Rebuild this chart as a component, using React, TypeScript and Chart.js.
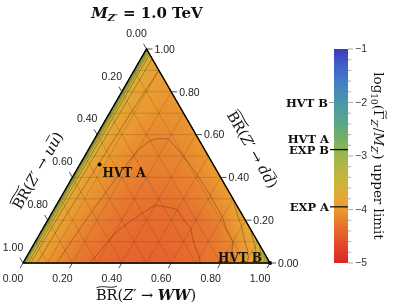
import { useEffect, useRef } from "react";
import { Chart, registerables } from "chart.js";

Chart.register(...registerables);

// ---- data (ternary: a = BR(WW), b = BR(uu), c = BR(dd)) ----
const titleMass = "1.0 TeV";
const wwFractions = [0, 0.01, 0.03, 0.06, 0.1, 0.2, 0.3, 0.4, 0.5, 0.6, 0.7, 0.8, 0.9, 0.95, 0.98, 1];
// share of dd among the quark decays: c / (b + c)
const ddShares = [0, 0.25, 0.5, 0.75, 1];
// log10(Gamma/M) upper limit, rows follow wwFractions, columns follow ddShares
const limitGrid = [
  [-2.88, -2.86, -2.83, -2.8, -2.77],
  [-3.32, -3.3, -3.27, -3.24, -3.21],
  [-3.72, -3.69, -3.66, -3.64, -3.62],
  [-3.95, -3.92, -3.89, -3.86, -3.83],
  [-4.06, -4.03, -4.0, -3.97, -3.93],
  [-4.25, -4.21, -4.16, -4.11, -4.02],
  [-4.36, -4.32, -4.27, -4.17, -4.04],
  [-4.42, -4.37, -4.32, -4.18, -4.03],
  [-4.43, -4.38, -4.33, -4.18, -4.01],
  [-4.41, -4.36, -4.31, -4.16, -3.98],
  [-4.35, -4.3, -4.25, -4.11, -3.93],
  [-4.23, -4.19, -4.13, -4.0, -3.83],
  [-3.98, -3.93, -3.88, -3.76, -3.6],
  [-3.7, -3.66, -3.61, -3.5, -3.35],
  [-3.27, -3.22, -3.17, -3.08, -2.95],
  [-2.7, -2.7, -2.7, -2.7, -2.7],
];
const contourLevels = [-4.33, -4.13, -3.93, -3.73, -3.53, -3.33, -3.13, -2.93];
const gridFractions = [0.1, 0.2, 0.3, 0.4, 0.5, 0.6, 0.7, 0.8, 0.9];
const axisTicks = [0, 0.2, 0.4, 0.6, 0.8, 1.0];
const axisTickLabels = ["0.00", "0.20", "0.40", "0.60", "0.80", "1.00"];
const benchNames = ["HVT A", "HVT B"];
const benchWW = [0.08, 1.0];
const benchUU = [0.46, 0.0];
const benchDD = [0.46, 0.0];
const cbRange = [-5, -1];
const cbTicks = [-1, -2, -3, -4, -5];
const cbTickLabels = ["\u22121", "\u22122", "\u22123", "\u22124", "\u22125"];
const cbMinorTicks = [-1.2, -1.4, -1.6, -1.8, -2.2, -2.4, -2.6, -2.8, -3.2, -3.4, -3.6, -3.8, -4.2, -4.4, -4.6, -4.8];
const cbMarkNames = ["HVT B", "HVT A", "EXP B", "EXP A"];
const cbMarkValues = [-2.0, -2.72, -2.88, -3.95];

// ---- styles ----
const SERIF = '"DejaVu Serif", "Liberation Serif", serif';
const SANS = '"Liberation Sans", Arial, sans-serif';
const CMAP: number[][] = [
  [-5.0, 220, 38, 38],
  [-4.7, 226, 69, 42],
  [-4.4, 230, 102, 46],
  [-4.2, 232, 128, 47],
  [-4.0, 234, 154, 49],
  [-3.8, 228, 166, 52],
  [-3.6, 214, 176, 56],
  [-3.3, 188, 182, 62],
  [-3.0, 156, 184, 74],
  [-2.7, 120, 176, 98],
  [-2.4, 90, 168, 134],
  [-2.0, 74, 152, 170],
  [-1.6, 68, 124, 196],
  [-1.3, 64, 96, 200],
  [-1.0, 58, 58, 192],
];

function cmap(v: number): number[] {
  if (v <= CMAP[0][0]) return CMAP[0].slice(1);
  for (let i = 0; i < CMAP.length - 1; i++) {
    const s0 = CMAP[i], s1 = CMAP[i + 1];
    if (v <= s1[0]) {
      const u = (v - s0[0]) / (s1[0] - s0[0]);
      return [s0[1] + u * (s1[1] - s0[1]), s0[2] + u * (s1[2] - s0[2]), s0[3] + u * (s1[3] - s0[3])];
    }
  }
  return CMAP[CMAP.length - 1].slice(1);
}

function findIdx(arr: number[], v: number) {
  let i = 0;
  while (i < arr.length - 2 && v > arr[i + 1]) i++;
  return i;
}

function fieldValue(a: number, c: number) {
  const aa = Math.min(Math.max(a, 0), 1);
  const n = wwFractions.length;
  if (aa >= 1) return limitGrid[n - 1][0];
  let t = c / (1 - aa);
  t = Math.min(Math.max(t, 0), 1);
  const i = findIdx(wwFractions, aa);
  const j = findIdx(ddShares, t);
  const u = (aa - wwFractions[i]) / (wwFractions[i + 1] - wwFractions[i]);
  const w = (t - ddShares[j]) / (ddShares[j + 1] - ddShares[j]);
  const v00 = limitGrid[i][j], v01 = limitGrid[i][j + 1];
  const v10 = limitGrid[i + 1][j], v11 = limitGrid[i + 1][j + 1];
  return (1 - u) * ((1 - w) * v00 + w * v01) + u * ((1 - w) * v10 + w * v11);
}

type Part = { t: string; f: string; dy?: number; tilde?: boolean; bar?: boolean };

function richText(ctx: CanvasRenderingContext2D, parts: Part[], x: number, y: number, angle: number, align = "center", color = "#111") {
  ctx.save();
  ctx.translate(x, y);
  ctx.rotate(angle);
  const widths = parts.map((p) => {
    ctx.font = p.f;
    return ctx.measureText(p.t).width;
  });
  const total = widths.reduce((s, w) => s + w, 0);
  let cx = align === "center" ? -total / 2 : align === "right" ? -total : 0;
  ctx.textAlign = "left";
  ctx.textBaseline = "alphabetic";
  ctx.fillStyle = color;
  ctx.strokeStyle = color;
  parts.forEach((p, i) => {
    ctx.font = p.f;
    const dy = p.dy || 0;
    ctx.fillText(p.t, cx, dy);
    const m = p.f.match(/(\d+(\.\d+)?)px/);
    const size = m ? parseFloat(m[1]) : 12;
    const w = widths[i];
    if (p.tilde) {
      const yt = dy - size * 0.9;
      ctx.beginPath();
      ctx.lineWidth = 0.9;
      ctx.moveTo(cx + 0.5, yt + 0.8);
      ctx.bezierCurveTo(cx + w * 0.35, yt - 2.2, cx + w * 0.65, yt + 2.2, cx + w - 0.5, yt - 0.8);
      ctx.stroke();
    }
    if (p.bar) {
      const yb = dy - size * 0.85;
      ctx.beginPath();
      ctx.lineWidth = 0.8;
      ctx.moveTo(cx + 1, yb);
      ctx.lineTo(cx + w - 0.5, yb);
      ctx.stroke();
    }
    cx += w;
  });
  ctx.restore();
}

const ternaryPlugin = {
  id: "ternaryField",
  beforeDatasetsDraw(chart: any) {
    const ctx: CanvasRenderingContext2D = chart.ctx;
    const xs = chart.scales.x, ys = chart.scales.y;
    const tern = (a: number, c: number) => [xs.getPixelForValue(a + c / 2), ys.getPixelForValue(c)];
    const x0 = Math.floor(xs.getPixelForValue(0)) - 1;
    const x1 = Math.ceil(xs.getPixelForValue(1)) + 1;
    const y0 = Math.floor(ys.getPixelForValue(1)) - 1;
    const y1 = Math.ceil(ys.getPixelForValue(0)) + 1;
    const W = x1 - x0 + 1, H = y1 - y0 + 1;
    const off = document.createElement("canvas");
    off.width = W;
    off.height = H;
    const octx = off.getContext("2d")!;
    const img = octx.createImageData(W, H);
    const vals = new Float32Array(W * H).fill(NaN);
    const tol = 0.003;
    for (let py = 0; py < H; py++) {
      const Y = ys.getValueForPixel(y0 + py + 0.5);
      for (let px = 0; px < W; px++) {
        const X = xs.getValueForPixel(x0 + px + 0.5);
        const c = Y, a = X - c / 2, b = 1 - a - c;
        if (a < -tol || b < -tol || c < -tol) continue;
        const v = fieldValue(a, Math.max(c, 0));
        vals[py * W + px] = v;
        const col = cmap(v);
        const k = (py * W + px) * 4;
        img.data[k] = col[0];
        img.data[k + 1] = col[1];
        img.data[k + 2] = col[2];
        img.data[k + 3] = 255;
      }
    }
    octx.putImageData(img, 0, 0);
    ctx.drawImage(off, x0, y0);

    // ternary grid
    ctx.save();
    ctx.lineWidth = 0.6;
    ctx.strokeStyle = "rgba(80,40,15,0.33)";
    ctx.beginPath();
    gridFractions.forEach((g) => {
      let p = tern(g, 0), q = tern(g, 1 - g);
      ctx.moveTo(p[0], p[1]); ctx.lineTo(q[0], q[1]);
      p = tern(0, g); q = tern(1 - g, g);
      ctx.moveTo(p[0], p[1]); ctx.lineTo(q[0], q[1]);
      p = tern(1 - g, 0); q = tern(0, 1 - g);
      ctx.moveTo(p[0], p[1]); ctx.lineTo(q[0], q[1]);
    });
    ctx.stroke();

    // contour lines
    ctx.lineWidth = 0.7;
    ctx.strokeStyle = "rgba(70,35,15,0.55)";
    ctx.beginPath();
    for (const L of contourLevels) {
      for (let py = 0; py < H - 1; py++) {
        for (let px = 0; px < W - 1; px++) {
          const v00 = vals[py * W + px], v10 = vals[py * W + px + 1];
          const v01 = vals[(py + 1) * W + px], v11 = vals[(py + 1) * W + px + 1];
          if (isNaN(v00) || isNaN(v10) || isNaN(v01) || isNaN(v11)) continue;
          const pts: number[][] = [];
          if (v00 > L !== v10 > L) pts.push([px + (L - v00) / (v10 - v00), py]);
          if (v10 > L !== v11 > L) pts.push([px + 1, py + (L - v10) / (v11 - v10)]);
          if (v01 > L !== v11 > L) pts.push([px + (L - v01) / (v11 - v01), py + 1]);
          if (v00 > L !== v01 > L) pts.push([px, py + (L - v00) / (v01 - v00)]);
          for (let s = 0; s + 1 < pts.length; s += 2) {
            ctx.moveTo(x0 + pts[s][0] + 0.5, y0 + pts[s][1] + 0.5);
            ctx.lineTo(x0 + pts[s + 1][0] + 0.5, y0 + pts[s + 1][1] + 0.5);
          }
        }
      }
    }
    ctx.stroke();
    ctx.restore();
  },
  afterDatasetsDraw(chart: any) {
    const ctx: CanvasRenderingContext2D = chart.ctx;
    const xs = chart.scales.x, ys = chart.scales.y, cb = chart.scales.cb;
    const tern = (a: number, c: number) => [xs.getPixelForValue(a + c / 2), ys.getPixelForValue(c)];
    ctx.save();
    // axis ticks
    ctx.strokeStyle = "#222";
    ctx.lineWidth = 0.8;
    ctx.fillStyle = "#222";
    ctx.font = `10.5px ${SANS}`;
    ctx.textBaseline = "middle";
    axisTicks.forEach((v, i) => {
      // bottom: WW
      let p = tern(v, 0);
      ctx.beginPath(); ctx.moveTo(p[0], p[1]); ctx.lineTo(p[0] - 3, p[1] + 5.2); ctx.stroke();
      ctx.textAlign = "center";
      ctx.fillText(axisTickLabels[i], p[0] - 10, p[1] + 16);
      // left: uu
      p = tern(0, 1 - v);
      ctx.beginPath(); ctx.moveTo(p[0], p[1]); ctx.lineTo(p[0] - 3, p[1] - 5.2); ctx.stroke();
      ctx.fillText(axisTickLabels[i], p[0] - 10, p[1] - 15);
      // right: dd
      p = tern(1 - v, v);
      ctx.beginPath(); ctx.moveTo(p[0], p[1]); ctx.lineTo(p[0] + 6, p[1]); ctx.stroke();
      ctx.textAlign = "left";
      ctx.fillText(axisTickLabels[i], p[0] + 8, p[1] + 1);
    });

    // benchmark labels in the triangle
    const pA = tern(benchWW[0], benchDD[0]);
    ctx.font = `bold 12px ${SERIF}`;
    ctx.textBaseline = "alphabetic";
    ctx.textAlign = "left";
    ctx.fillStyle = "#111";
    ctx.fillText(benchNames[0], pA[0] + 3, pA[1] + 12);
    const pB = tern(benchWW[1], benchDD[1]);
    ctx.textAlign = "right";
    ctx.fillText(benchNames[1], pB[0] - 8, pB[1] - 1);

    // colorbar
    const cbL = 334, cbW = 14;
    const top = cb.getPixelForValue(cbRange[1]);
    const bot = cb.getPixelForValue(cbRange[0]);
    for (let y = Math.floor(top); y < Math.ceil(bot); y++) {
      const col = cmap(cb.getValueForPixel(y + 0.5));
      ctx.fillStyle = `rgb(${col[0]},${col[1]},${col[2]})`;
      ctx.fillRect(cbL, y, cbW, 1);
    }
    ctx.strokeStyle = "#999";
    ctx.lineWidth = 0.8;
    cbMinorTicks.forEach((v) => {
      const y = cb.getPixelForValue(v);
      ctx.beginPath(); ctx.moveTo(cbL + cbW, y); ctx.lineTo(cbL + cbW + 3, y); ctx.stroke();
    });
    ctx.font = `10.5px ${SANS}`;
    ctx.fillStyle = "#333";
    ctx.textAlign = "left";
    ctx.textBaseline = "middle";
    cbTicks.forEach((v, i) => {
      const y = cb.getPixelForValue(v);
      ctx.beginPath(); ctx.moveTo(cbL + cbW, y); ctx.lineTo(cbL + cbW + 5, y); ctx.stroke();
      ctx.fillText(cbTickLabels[i], cbL + cbW + 7, y + 0.5);
    });
    // colorbar marks
    ctx.font = `bold 11.5px ${SERIF}`;
    ctx.textAlign = "right";
    ctx.textBaseline = "alphabetic";
    ctx.fillStyle = "#111";
    cbMarkNames.forEach((name, i) => {
      const y = cb.getPixelForValue(cbMarkValues[i]);
      if (name.startsWith("EXP")) {
        ctx.strokeStyle = "#111";
        ctx.lineWidth = 1.3;
        ctx.beginPath(); ctx.moveTo(cbL - 4, y); ctx.lineTo(cbL + cbW, y); ctx.stroke();
        ctx.fillText(name, cbL - 5, y + 4);
      } else if (name === "HVT B") {
        ctx.strokeStyle = "#888";
        ctx.lineWidth = 0.8;
        ctx.beginPath(); ctx.moveTo(cbL - 5, y); ctx.lineTo(cbL, y); ctx.stroke();
        ctx.fillText(name, cbL - 6, y + 4);
      } else {
        ctx.fillText(name, cbL - 5, y + 2);
      }
    });
    ctx.restore();

    // titles
    const ser = (s: number, st = "") => `${st}${s}px ${SERIF}`;
    richText(ctx, [
      { t: "M", f: ser(15, "italic bold ") },
      { t: "Z\u2032", f: ser(10, "italic bold "), dy: 3 },
      { t: " = " + titleMass, f: ser(15, "bold ") },
    ], 147, 18, 0);
    const brParts = (tail: Part[], s: number): Part[] => [
      { t: "BR", f: ser(s), tilde: true },
      { t: "(", f: ser(s) },
      { t: "Z", f: ser(s, "italic ") },
      { t: "\u2032 \u2192 ", f: ser(s) },
      ...tail,
      { t: ")", f: ser(s) },
    ];
    richText(ctx, brParts([{ t: "WW", f: ser(14.5, "italic bold ") }], 14.5), 146, 300, 0);
    richText(ctx, brParts([{ t: "u", f: ser(14.5, "italic ") }, { t: "u", f: ser(14.5, "italic "), bar: true }], 14.5), 42, 173, -Math.PI / 3);
    richText(ctx, brParts([{ t: "d", f: ser(14.5, "italic ") }, { t: "d", f: ser(14.5, "italic "), bar: true }], 14.5), 248, 152, Math.PI / 3);
    richText(ctx, [
      { t: "log", f: ser(13.5) },
      { t: "10", f: ser(9), dy: 3 },
      { t: "(", f: ser(13.5) },
      { t: "\u0393", f: ser(13.5), tilde: true },
      { t: "Z\u2032", f: ser(9, "italic "), dy: 3 },
      { t: "/", f: ser(13.5) },
      { t: "M", f: ser(13.5, "italic ") },
      { t: "Z\u2032", f: ser(9, "italic "), dy: 3 },
      { t: ") upper limit", f: ser(13.5) },
    ], 374, 156, Math.PI / 2);
  },
};

export default function App() {
  const ref = useRef<HTMLCanvasElement>(null);
  useEffect(() => {
    const outline = [
      { x: 0, y: 0 },
      { x: 1, y: 0 },
      { x: 0.5, y: 1 },
      { x: 0, y: 0 },
    ];
    const bench = benchWW.map((a, i) => ({ x: a + benchDD[i] / 2, y: benchDD[i], u: benchUU[i] }));
    const chart = new Chart(ref.current!, {
      type: "scatter",
      data: {
        datasets: [
          {
            type: "line",
            data: outline,
            borderColor: "#000",
            borderWidth: 1.5,
            pointRadius: 0,
            fill: false,
            tension: 0,
            clip: false,
          } as any,
          {
            type: "scatter",
            data: bench,
            pointRadius: 2,
            backgroundColor: "#000",
            borderWidth: 0,
            clip: false,
          } as any,
        ],
      },
      options: {
        animation: false,
        responsive: false,
        maintainAspectRatio: false,
        layout: { padding: { left: 23, right: 125, top: 49, bottom: 44 } },
        scales: {
          x: { type: "linear", min: 0, max: 1, display: false },
          y: { type: "linear", min: 0, max: 1, display: false },
          cb: { type: "linear", min: cbRange[0], max: cbRange[1], display: false, position: "right" },
        },
        plugins: { legend: { display: false }, tooltip: { enabled: false } },
      },
      plugins: [ternaryPlugin],
    });
    return () => chart.destroy();
  }, []);
  return (
    <div style={{ position: "fixed", left: 0, top: 0, width: 395, height: 307, background: "#fff" }}>
      <canvas ref={ref} width={395} height={307} style={{ display: "block" }} />
    </div>
  );
}
